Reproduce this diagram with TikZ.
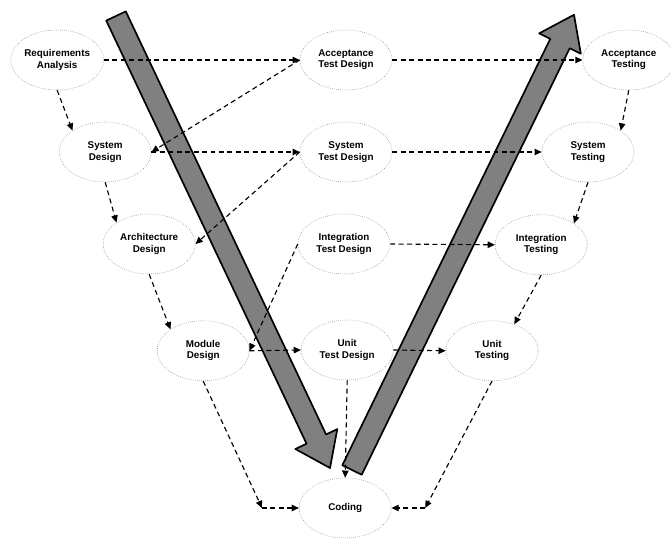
\documentclass[tikz,border=0pt]{standalone}
\usepackage{fontspec}
\setmainfont{Liberation Sans}
\usetikzlibrary{positioning,arrows.meta,calc,shapes.geometric}

\begin{document}
\begin{tikzpicture}[
		phase/.style={shape=ellipse, draw=gray, densely dotted, thin, minimum width=2.3cm, minimum height=1.5cm, inner sep=0pt, align=center, font=\fontsize{7}{8}\selectfont\bfseries},
		flow/.style={black, thick, dash pattern=on 3.5pt off 2.5pt, -{Triangle[length=1.8mm,width=1.6mm]}},
		bigarrow/.style={fill=black!50, draw=black, line width=1.2pt, line join=round}
	]
		\useasboundingbox (0,0) rectangle (16.775,13.5);
		
		% the two big arrows
		\coordinate (ds) at (2.9, 13.1);
		\coordinate (dt) at (8.25, 1.8);
		\coordinate (us) at (8.8, 1.75);
		\coordinate (ut) at (14.35, 13.13);
		\foreach \s/\t in {ds/dt, us/ut} {
			\coordinate (hb) at ($(\t)!0.8cm!(\s)$);
			\draw[bigarrow] ($(\s)!0.27cm!90:(\t)$) -- ($(hb)!0.27cm!90:(\t)$) -- ($(hb)!0.58cm!90:(\t)$) -- (\t) -- ($(hb)!0.58cm!-90:(\t)$) -- ($(hb)!0.27cm!-90:(\t)$) -- ($(\s)!0.27cm!-90:(\t)$) -- cycle;
		}
		
		\node[phase] (reqa) at (1.43, 12)     {Requirements\\Analysis};
		\node[phase] (acctd) at (8.65, 12)    {Acceptance\\Test Design};
		\node[phase] (acct) at (15.72, 12)    {Acceptance\\Testing};
		\node[phase] (sysd) at (2.63, 9.7)    {System\\Design};
		\node[phase] (systd) at (8.65, 9.7)   {System\\Test Design};
		\node[phase] (syst) at (14.7, 9.7)    {System\\Testing};
		\node[phase] (archd) at (3.73, 7.4)   {Architecture\\Design};
		\node[phase] (inttd) at (8.6, 7.4)    {Integration\\Test Design};
		\node[phase] (intt) at (13.53, 7.38)  {Integration\\Testing};
		\node[phase] (modd) at (5.08, 4.73)   {Module\\Design};
		\node[phase] (unittd) at (8.68, 4.75) {Unit\\Test Design};
		\node[phase] (unitt) at (12.3, 4.73)  {Unit\\Testing};
		\node[phase] (coding) at (8.63, 0.8)  {Coding};
		
		\coordinate (lc) at (6.55, 0.8);
		\coordinate (rc) at (10.63, 0.8);
		
		% design side
		\path[flow] (reqa.east) edge (acctd.west);
		\path[flow] (reqa.south) edge (sysd.north west);
		\path[flow] (acctd.west) edge (sysd.east);
		\path[flow] (sysd.east) edge (systd.west);
		\path[flow] (sysd.south) edge (archd.north west);
		\path[flow] (systd.west) edge (archd.east);
		\path[flow] (archd.south) edge (modd.north west);
		\path[flow] (inttd.west) edge (modd.east);
		\path[flow] (modd.east) edge (unittd.west);
		
		% testing side
		\path[flow] (acctd.east) edge (acct.west);
		\path[flow] (systd.east) edge (syst.west);
		\path[flow] (inttd.east) edge (intt.west);
		\path[flow] (unittd.east) edge (unitt.west);
		\path[flow] (acct.south) edge (syst.north east);
		\path[flow] (syst.south) edge (intt.north east);
		\path[flow] (intt.south) edge (unitt.50);
		
		% into coding
		\path[flow] (unittd.south) edge (coding.north);
		\path[flow] (modd.south) edge (lc) (lc) edge (coding.west);
		\path[flow] (unitt.south) edge (rc) (rc) edge (coding.east);
		\end{tikzpicture}
\end{document}
